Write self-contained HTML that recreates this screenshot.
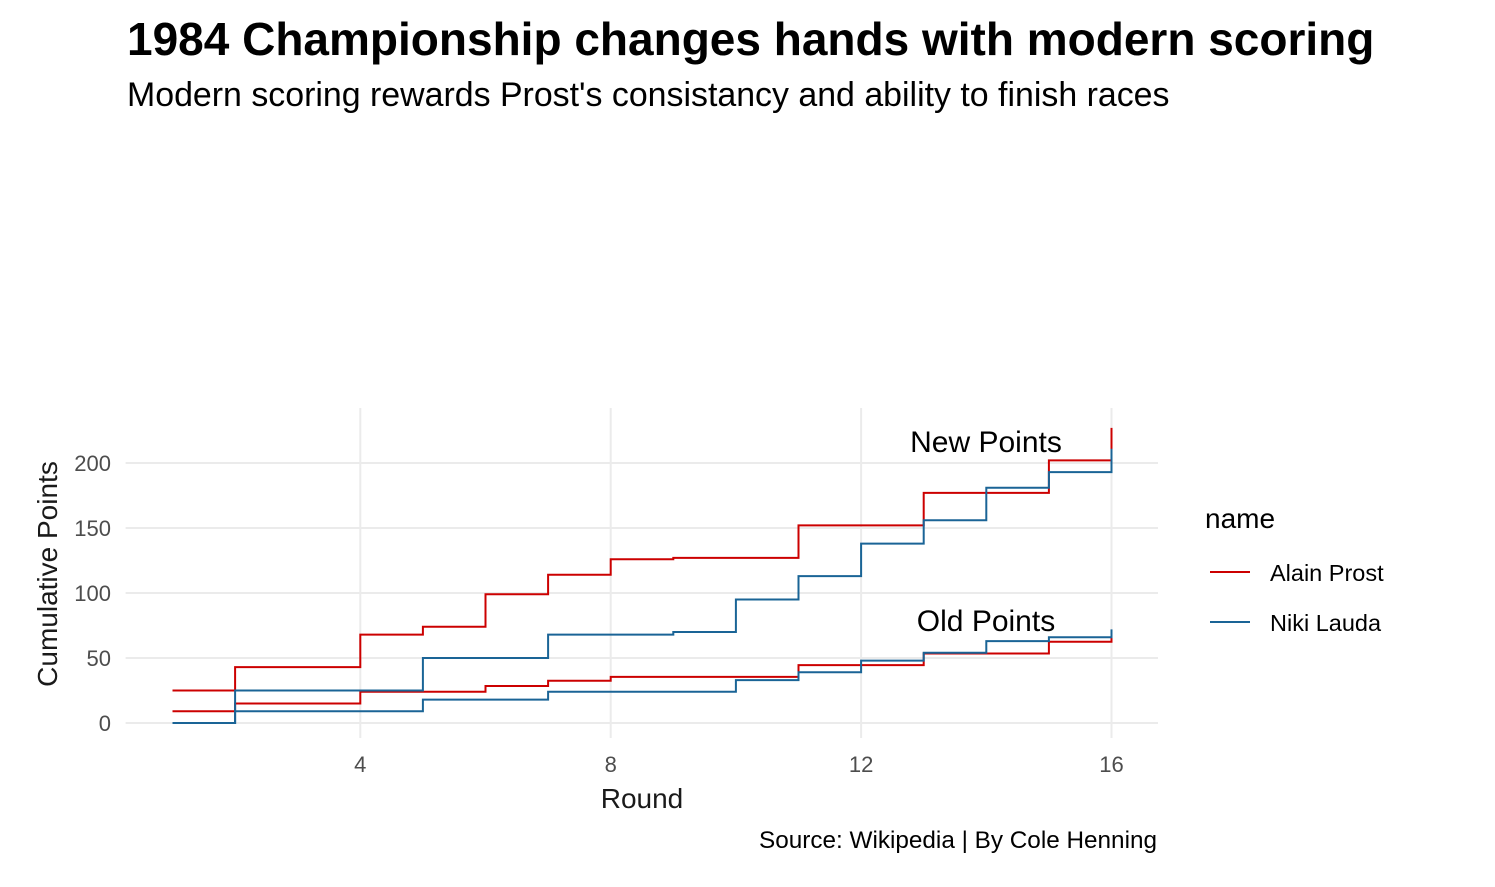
<!DOCTYPE html>
<html><head><meta charset="utf-8"><style>
body{margin:0;background:#fff;font-family:"Liberation Sans",sans-serif}
svg text{font-family:"Liberation Sans",sans-serif}
</style></head><body>
<svg width="1495" height="882" viewBox="0 0 1495 882" xmlns="http://www.w3.org/2000/svg">
<text x="127" y="55" font-size="46" font-weight="bold" fill="#000">1984 Championship changes hands with modern scoring</text>
<text x="127" y="106" font-size="33.9" fill="#000">Modern scoring rewards Prost's consistancy and ability to finish races</text>
<g id="grid"></g>
<g id="lines"></g>
<g id="ticks"></g>
<text x="986" y="452" font-size="30" text-anchor="middle" fill="#000">New Points</text>
<text x="986" y="631" font-size="30" text-anchor="middle" fill="#000">Old Points</text>
<text x="642" y="808" font-size="28" text-anchor="middle" fill="#1a1a1a">Round</text>
<text transform="translate(57,574) rotate(-90)" font-size="28" text-anchor="middle" fill="#1a1a1a">Cumulative Points</text>
<text x="1157" y="848" font-size="24.3" text-anchor="end" fill="#000">Source: Wikipedia | By Cole Henning</text>
<g>
<text x="1205" y="528" font-size="28" fill="#000">name</text>
<line x1="1210" x2="1250" y1="572" y2="572" stroke="#cc0000" stroke-width="2"/>
<text x="1270" y="581" font-size="23.5" fill="#000">Alain Prost</text>
<line x1="1210" x2="1250" y1="622" y2="622" stroke="#1a6496" stroke-width="2"/>
<text x="1270" y="631" font-size="23.5" fill="#000">Niki Lauda</text>
</g>
</svg>
<script>
const rounds=[1,2,3,4,5,6,7,8,9,10,11,12,13,14,15,16];
const prostNew=[25,43,43,68,74,99,114,126,127,127,152,152,177,177,202,227];
const laudaNew=[0,25,25,25,50,50,68,68,70,95,113,138,156,181,193,211];
const prostOld=[9,15,15,24,24,28.5,32.5,35.5,35.5,35.5,44.5,44.5,53.5,53.5,62.5,71.5];
const laudaOld=[0,9,9,9,18,18,24,24,24,33,39,48,54,63,66,72];
const xTicks=[4,8,12,16];
const yTicks=[0,50,100,150,200];
const NS="http://www.w3.org/2000/svg";
const L=125.6,R=1158,T=408,B=738;
const xs=v=>172.5+(v-1)*62.6;
const ys=v=>723-v*1.3;
function mk(tag,attrs,parent){const e=document.createElementNS(NS,tag);for(const k in attrs)e.setAttribute(k,attrs[k]);document.getElementById(parent).appendChild(e);return e;}
xTicks.forEach(t=>{
 const g=mk('line',{x1:xs(t),x2:xs(t),y1:T,y2:B,stroke:'#ebebeb','stroke-width':2},'grid');
 
 
 const tx=mk('text',{x:xs(t),y:772,'font-size':22,'text-anchor':'middle',fill:'#4d4d4d'},'ticks');
 tx.textContent=t;
 
 
});
yTicks.forEach(t=>{
 const g=mk('line',{x1:L,x2:R,y1:ys(t),y2:ys(t),stroke:'#ebebeb','stroke-width':2},'grid');
 
 
 const tx=mk('text',{x:111,y:ys(t)+8,'font-size':22,'text-anchor':'end',fill:'#4d4d4d'},'ticks');
 tx.textContent=t;
 
 
});
function step(vals,color,name){
 let d='M'+xs(rounds[0])+','+ys(vals[0]);
 for(let i=1;i<vals.length;i++){d+=' H'+xs(rounds[i])+' V'+ys(vals[i]);}
 const p=mk('path',{d:d,fill:'none',stroke:color,'stroke-width':2},'lines');
 
 
}
step(prostOld,'#cc0000','prost-old-line');
step(laudaOld,'#1a6496','lauda-old-line');
step(prostNew,'#cc0000','prost-new-line');
step(laudaNew,'#1a6496','lauda-new-line');
</script>
</body></html>
